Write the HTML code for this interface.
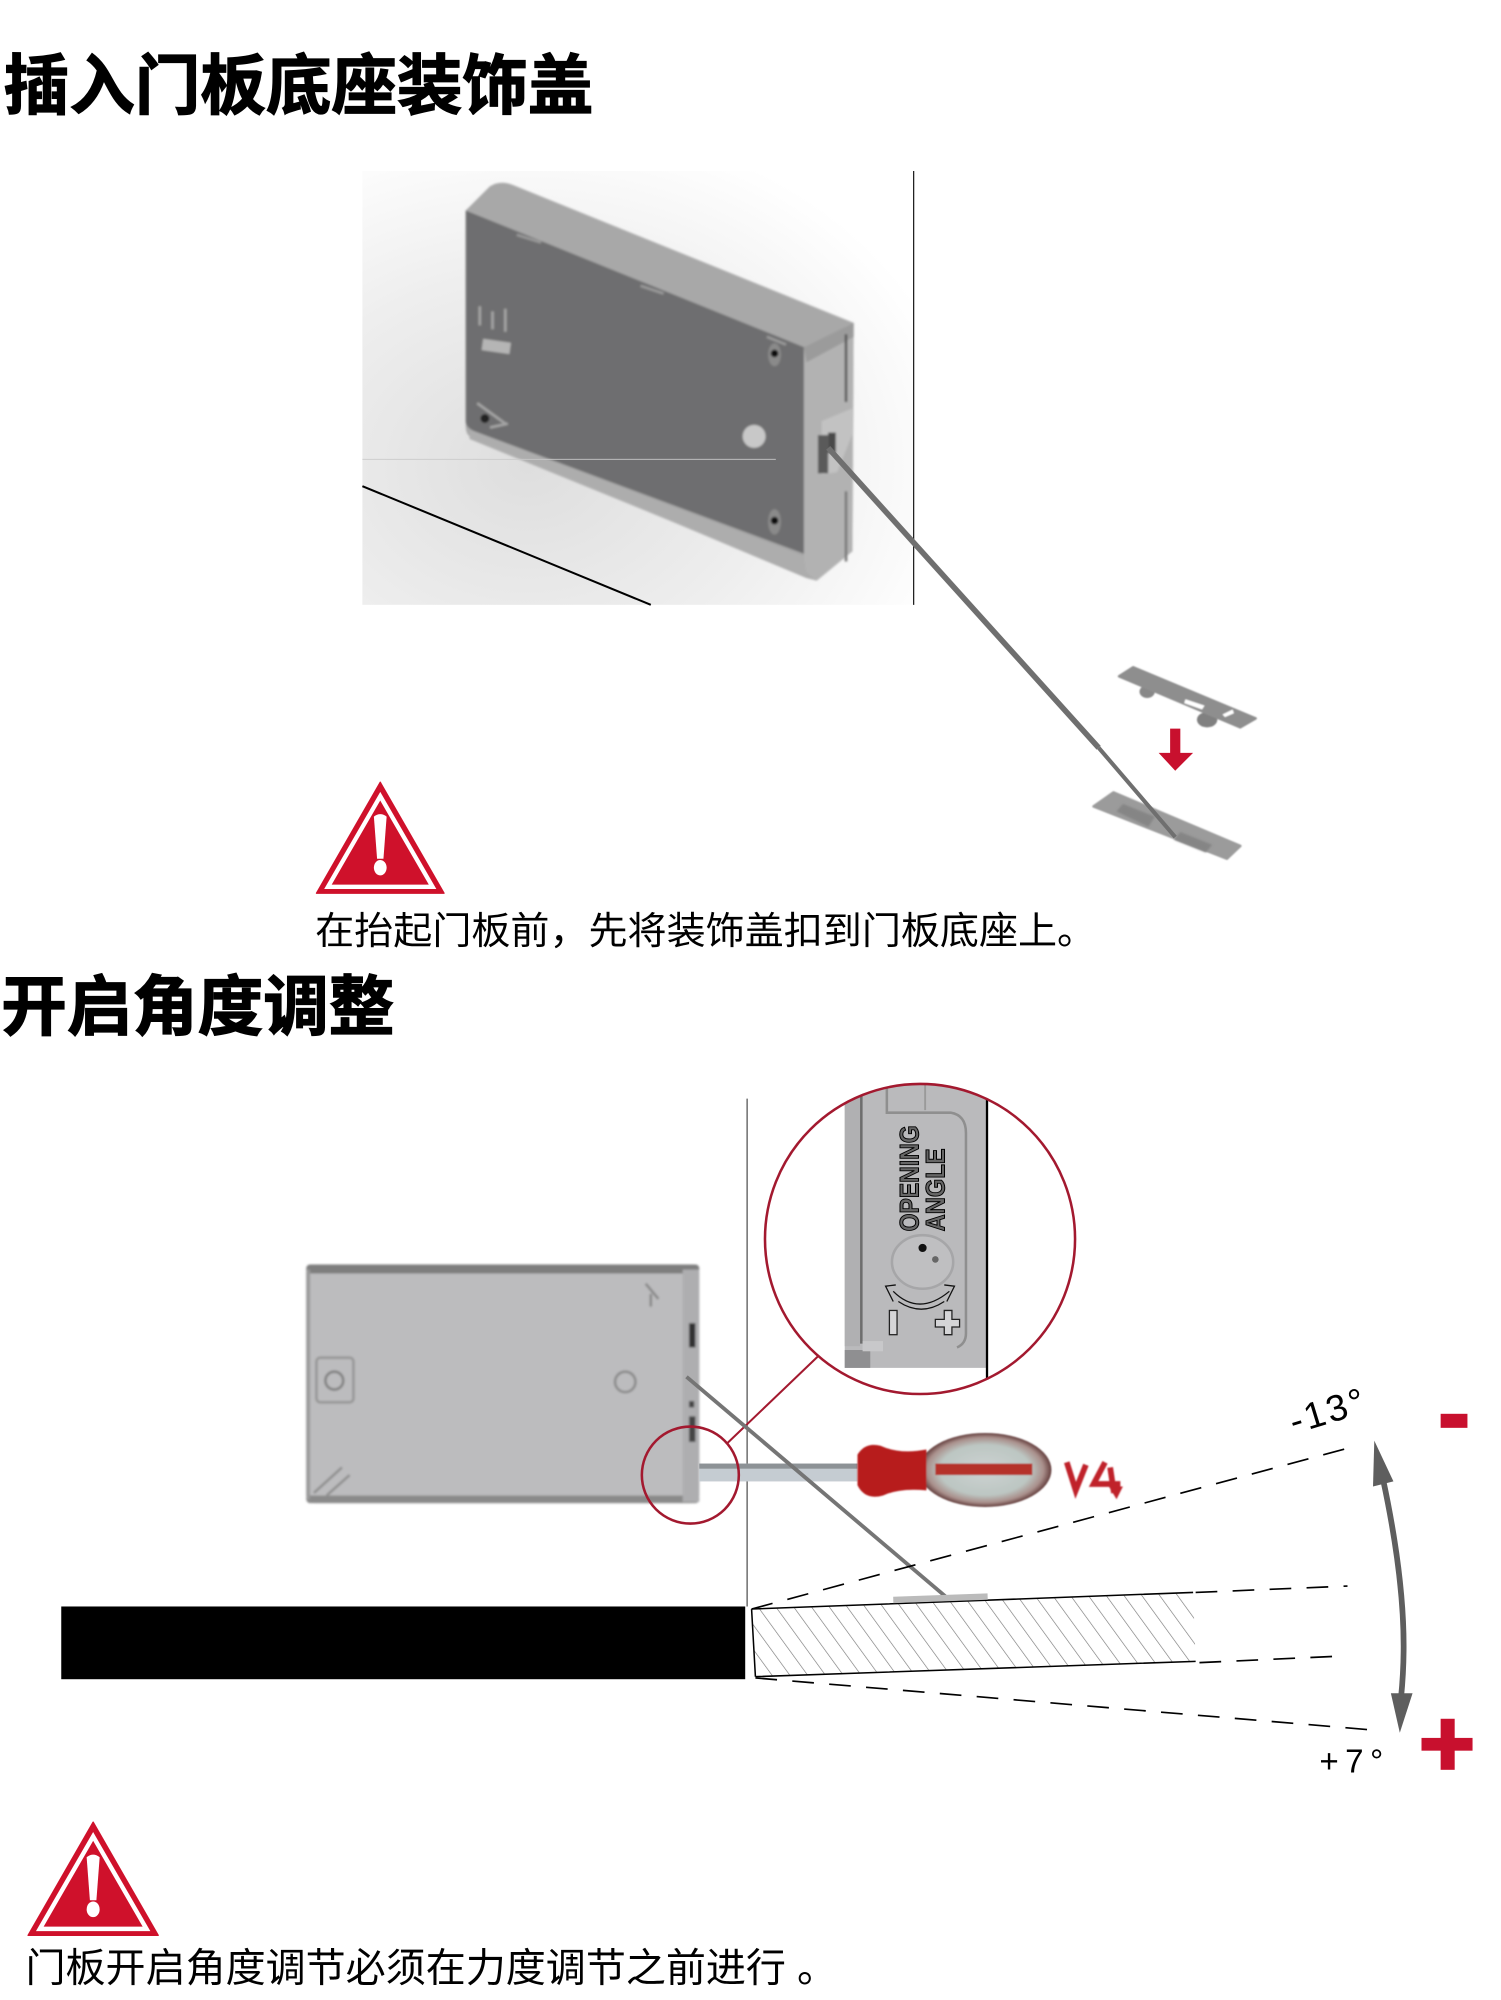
<!DOCTYPE html>
<html>
<head>
<meta charset="utf-8">
<style>
html,body{margin:0;padding:0;background:#fff}
svg{display:block}
.h{font-family:"Liberation Sans","Noto Sans CJK SC",sans-serif;font-weight:700;font-size:51px;fill:#000;stroke:#000;stroke-width:1px}
.t{font-family:"Liberation Sans","Noto Sans CJK SC",sans-serif;font-size:30px;fill:#000}
.d{font-family:"Liberation Sans",sans-serif;fill:#000;font-weight:400}
</style>
</head>
<body>
<svg width="1501" height="2000" viewBox="0 0 1176.3 1567.4" preserveAspectRatio="none" xmlns="http://www.w3.org/2000/svg">
<defs>
<radialGradient id="bg" cx="0.3" cy="0.68" r="0.8">
<stop offset="0" stop-color="#dedede"/><stop offset="0.55" stop-color="#eeeeee"/><stop offset="1" stop-color="#ffffff"/>
</radialGradient>
<radialGradient id="bulb" cx="0.5" cy="0.5" r="0.55">
<stop offset="0" stop-color="#cdd2d2"/><stop offset="0.62" stop-color="#bcc6c2"/><stop offset="0.8" stop-color="#a98f8b"/><stop offset="0.95" stop-color="#4a2020"/><stop offset="1" stop-color="#4a2020"/>
</radialGradient>
<filter id="b1"><feGaussianBlur stdDeviation="0.9"/></filter>
<filter id="b2"><feGaussianBlur stdDeviation="0.6"/></filter>
<pattern id="hatch" width="11.3" height="14" patternUnits="userSpaceOnUse" patternTransform="rotate(-36)">
<line x1="0" y1="0" x2="0" y2="14" stroke="#777" stroke-width="1"/>
</pattern>
<clipPath id="lens"><ellipse cx="721" cy="971" rx="121.5" ry="121.5"/></clipPath>
<g id="warn">
<path d="M50 0 L100 87 L0 87 Z" fill="#cf112b" stroke="#cf112b" stroke-width="1" stroke-linejoin="round"/>
<path d="M50 11 L91 82 L9 82 Z" fill="none" stroke="#fff" stroke-width="3.4"/>
<path d="M45 27 Q50 23 55 27 L52.5 60 L47.5 60 Z" fill="#fff"/>
<ellipse cx="50" cy="67" rx="5" ry="6" fill="#fff"/>
</g>
</defs>

<text class="h" x="3" y="85" textLength="462" lengthAdjust="spacingAndGlyphs">插入门板底座装饰盖</text>

<rect x="284" y="134" width="432" height="340" fill="url(#bg)"/>
<line x1="716" y1="134" x2="716" y2="474" stroke="#222" stroke-width="1"/>
<line x1="284" y1="381" x2="510" y2="474" stroke="#000" stroke-width="1.6"/>

<g filter="url(#b1)">
<path d="M365 165 L384 146 Q392 141 402 145 L669 253 L668 432 L640 455 L632 453 L368 342 Q365 340 365 334 Z" fill="#a8a8a8"/>
<path d="M630 272 L669 253 L668 432 L640 455 L630 448 Z" fill="#b2b2b2"/>
<path d="M365 165 L630 272 L630 434 L372 338 Q365 335 365 330 Z" fill="#6e6e70"/>
<path d="M368 337 L630 436 L632 448 L640 455 L368 344 Z" fill="#adadad"/>
<path d="M630 272 L669 253 L669 264 L632 284 Z" fill="#9b9b9b"/>
<path d="M644 330 L668 320 L668 340 L656 370 L644 372 Z" fill="#c2c2c2"/>
<rect x="641" y="341" width="8" height="30" fill="#5a5a5a"/>
<rect x="649" y="339" width="6" height="16" fill="#4a4a4a"/>
<line x1="663" y1="262" x2="663" y2="315" stroke="#555" stroke-width="2"/>
<line x1="663" y1="385" x2="663" y2="440" stroke="#777" stroke-width="2"/>
<circle cx="591" cy="342" r="9" fill="#c8c8c8"/>
<ellipse cx="607" cy="278" rx="5" ry="9" fill="#8a8a8a"/><circle cx="607" cy="277" r="3" fill="#111"/>
<ellipse cx="607" cy="409" rx="5" ry="10" fill="#8a8a8a"/><circle cx="607" cy="408" r="3" fill="#111"/>
<circle cx="380" cy="328" r="3.5" fill="#222"/>
<path d="M374 316 L396 332 M384 335 L398 332" stroke="#a5a5a5" stroke-width="2" fill="none"/>
<rect x="378" y="267" width="22" height="9" fill="#b5b5b5" transform="rotate(8 389 271)"/>
<path d="M376 240 L376 255 M386 244 L386 258 M396 242 L396 260" stroke="#a5a5a5" stroke-width="2"/>
<line x1="405" y1="184" x2="424" y2="190" stroke="#9a9a9a" stroke-width="2"/>
<line x1="502" y1="224" x2="520" y2="230" stroke="#9a9a9a" stroke-width="2"/>
<line x1="601" y1="264" x2="616" y2="270" stroke="#9a9a9a" stroke-width="2"/>
</g>
<line x1="284" y1="360" x2="608" y2="360" stroke="#c9c9c9" stroke-width="0.7"/>

<g filter="url(#b2)">
<ellipse cx="899" cy="542" rx="6" ry="5" fill="#888"/>
<ellipse cx="946" cy="564" rx="8" ry="6" fill="#808080"/>
<path d="M888 523 L984 563 L972 570 L877 530 Z" fill="#8e8e8e" stroke="#8e8e8e" stroke-width="2" stroke-linejoin="round"/>
<path d="M929 548 L944 553 L942 556 L928 551 Z" fill="#fff"/>
<path d="M958 560 L966 556 L967 559 L960 562 Z" fill="#fff"/>
<path d="M872.6 621 L972 663 L961.5 673 L857 632 Z" fill="#9b9b9b" stroke="#9b9b9b" stroke-width="2" stroke-linejoin="round"/>
</g>
<path d="M880 630 L905 640 L900 648 L875 636 Z M925 652 L950 662 L945 668 L920 658 Z" fill="#858585" filter="url(#b1)"/>

<path d="M649 351 L861 586" stroke="#6f6f6f" stroke-width="4.4" fill="none"/>
<path d="M861 586 L921 656" stroke="#6f6f6f" stroke-width="3.2" fill="none"/>

<path d="M917 571 H925 V590 H935 L921 604 L908 590 H917 Z" fill="#c8102e"/>

<use href="#warn" x="248" y="613"/>

<text class="t" x="247" y="740" textLength="612" lengthAdjust="spacingAndGlyphs">在抬起门板前，先将装饰盖扣到门板底座上。</text>

<text class="h" x="1" y="807" textLength="308" lengthAdjust="spacingAndGlyphs">开启角度调整</text>

<!-- lower diagram -->
<line x1="585.5" y1="861" x2="585.5" y2="1259" stroke="#555" stroke-width="1"/>

<g filter="url(#b1)">
<rect x="240" y="991" width="308" height="187" rx="7" fill="#bcbcbe"/>
<rect x="240" y="991" width="308" height="7" rx="3" fill="#7e7e7e"/>
<rect x="240" y="1172" width="308" height="6" rx="3" fill="#8a8a8a"/>
<rect x="240" y="995" width="3" height="180" fill="#9a9a9a"/>
<rect x="535" y="995" width="13" height="182" fill="#aeaeb0"/>
<rect x="540" y="1037" width="5" height="19" fill="#333"/>
<rect x="540" y="1110" width="5" height="20" fill="#444"/>
<rect x="540" y="1098" width="4" height="5" fill="#444"/>
<rect x="248" y="1064" width="29" height="35" rx="3" fill="none" stroke="#969696" stroke-width="2"/>
<circle cx="262" cy="1082" r="7" fill="none" stroke="#808080" stroke-width="2"/>
<circle cx="490" cy="1083" r="8" fill="none" stroke="#8a8a8a" stroke-width="2"/>
<path d="M246 1170 L268 1150 M256 1172 L274 1156" stroke="#8f8f8f" stroke-width="2"/>
<path d="M506 1006 L516 1018 M510 1014 L510 1024" stroke="#888" stroke-width="2"/>
</g>

<!-- lens -->
<ellipse cx="721" cy="971" rx="121.5" ry="121.5" fill="#fff"/>
<g clip-path="url(#lens)">
<rect x="662" y="840" width="111" height="232" fill="#bababc"/>
<rect x="662" y="840" width="12" height="215" fill="#b0b0b2"/>
<path d="M675 1053 V850" stroke="#6e6e6e" stroke-width="2"/>
<path d="M695 850 V872 H745 Q757 874 757 888 V1045 Q757 1053 750 1056" fill="none" stroke="#8f8f8f" stroke-width="2"/>
<path d="M725 850 V870" stroke="#9a9a9a" stroke-width="1.5"/>
<rect x="662" y="1058" width="20" height="14" fill="#8f8f91"/>
<rect x="676" y="1051" width="16" height="8" fill="#c8c8ca"/>
<line x1="773.5" y1="840" x2="773.5" y2="1092" stroke="#000" stroke-width="1.8"/>
<ellipse cx="723" cy="989" rx="24" ry="21" fill="#bfbfc1" stroke="#a6a6a8" stroke-width="2"/>
<circle cx="723" cy="978" r="3.2" fill="#111"/>
<circle cx="733" cy="987" r="2.6" fill="#666"/>
<path d="M700 1012 Q720 1032 744 1012 M702 1007 L694 1008 L700 1020 M740 1007 L748 1008 L742 1020 M704 1020 Q722 1032 740 1020" fill="none" stroke="#111" stroke-width="1"/>
<rect x="697" y="1027" width="6" height="19" fill="#d5d5d7" stroke="#222" stroke-width="1"/>
<path d="M740 1027 H746 V1034 H752 V1040 H746 V1046 H740 V1040 H733 V1034 H740 Z" fill="#d5d5d7" stroke="#222" stroke-width="1"/>
<text transform="translate(720,965) rotate(-90)" font-family="Liberation Sans, sans-serif" font-size="21" font-weight="700" fill="#666" stroke="#000" stroke-width="0.8" textLength="83" lengthAdjust="spacingAndGlyphs">OPENING</text>
<text transform="translate(740,965) rotate(-90)" font-family="Liberation Sans, sans-serif" font-size="21" font-weight="700" fill="#666" stroke="#000" stroke-width="0.8" textLength="65" lengthAdjust="spacingAndGlyphs">ANGLE</text>
</g>
<ellipse cx="721" cy="971" rx="121.5" ry="121.5" fill="none" stroke="#a3192f" stroke-width="2"/>
<line x1="570" y1="1131" x2="641" y2="1063" stroke="#a3192f" stroke-width="1.6"/>

<!-- screwdriver -->
<rect x="548" y="1147" width="124" height="14" fill="#c5ccd2"/>
<rect x="548" y="1147" width="124" height="4" fill="#8d9296"/>
<line x1="538" y1="1079" x2="742" y2="1252" stroke="#757575" stroke-width="3"/>
<ellipse cx="541" cy="1156" rx="38" ry="38" fill="none" stroke="#a3192f" stroke-width="2"/>
<g filter="url(#b2)">
<ellipse cx="772" cy="1152" rx="52" ry="29" fill="url(#bulb)"/>
<path d="M672 1140 Q678 1130 690 1133 Q705 1140 726 1136 L726 1168 Q705 1166 692 1172 Q678 1176 672 1164 Z" fill="#b71c1c"/>
<rect x="733" y="1147" width="76" height="9" fill="#b5302c"/>
<path d="M836 1146 L843 1168 L851 1148 M866 1146 L857 1163 L878 1163 M870 1150 L873 1170" fill="none" stroke="#c0202a" stroke-width="4.5"/>
<path d="M875 1175 L869 1165 L880 1165 Z" fill="#c0202a"/>
</g>

<!-- door -->
<rect x="48" y="1259" width="536" height="57" fill="#000"/>
<path d="M589 1261 L935 1248 L937 1302 L592 1314 Z" fill="url(#hatch)"/>
<path d="M589 1261 L935 1248 M592 1314 L937 1302 M589 1261 L592 1314" stroke="#000" stroke-width="1.2" fill="none"/>
<rect x="700" y="1250" width="74" height="5" fill="#bbb" transform="rotate(-2 738 1252)"/>

<g stroke="#000" stroke-width="1.3" stroke-dasharray="17 12" fill="none">
<line x1="589" y1="1261" x2="1056" y2="1135"/>
<line x1="937" y1="1248" x2="1056" y2="1243"/>
<line x1="940" y1="1303" x2="1048" y2="1298"/>
<line x1="592" y1="1315" x2="1078" y2="1356"/>
</g>

<path d="M1084 1160 Q1100 1235 1100 1290 Q1100 1310 1098 1330" fill="none" stroke="#5e5e5e" stroke-width="4.5"/>
<path d="M1077 1129 L1092 1161 L1076 1165 Z" fill="#5e5e5e"/>
<path d="M1097 1358 L1090 1327 L1107 1327 Z" fill="#5e5e5e"/>

<text class="d" font-size="29" transform="translate(1014,1124) rotate(-17)" textLength="60">-13°</text>
<text class="d" x="1034" y="1389" textLength="50" font-size="26">+7°</text>

<rect x="1129" y="1108" width="21" height="11" fill="#c8102e"/>
<rect x="1114" y="1362" width="40" height="10" fill="#c8102e"/>
<rect x="1129" y="1347" width="11" height="40" fill="#c8102e"/>

<use href="#warn" transform="translate(22,1428) scale(1.02)"/>

<text class="t" x="20" y="1553" style="font-size:31.4px" textLength="636" lengthAdjust="spacingAndGlyphs">门板开启角度调节必须在力度调节之前进行 。</text>
</svg>
</body>
</html>
